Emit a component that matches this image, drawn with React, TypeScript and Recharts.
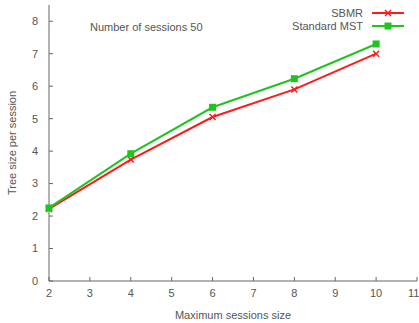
import { LineChart, Line, XAxis, YAxis } from "recharts";

const sessionSizes = [2, 4, 6, 8, 10];
const sbmr = [2.22, 3.74, 5.05, 5.9, 7.0];
const standardMst = [2.25, 3.92, 5.35, 6.23, 7.3];
const xTicks = [2, 3, 4, 5, 6, 7, 8, 9, 10, 11];
const yTicks = [0, 1, 2, 3, 4, 5, 6, 7, 8];

const data = sessionSizes.map((x, i) => ({ x, sbmr: sbmr[i], mst: standardMst[i] }));

const FONT = "'Liberation Sans', Arial, sans-serif";
const GREY = "#555";
const AXIS = "#666";
const RED = "#ff1a1a";
const GREEN = "#1fc41f";

const CrossDot = (props: any) => {
  const { cx, cy } = props;
  if (cx == null || cy == null) return null;
  const s = 3;
  return (
    <g stroke={RED} strokeWidth={1.5}>
      <line x1={cx - s} y1={cy - s} x2={cx + s} y2={cy + s} />
      <line x1={cx - s} y1={cy + s} x2={cx + s} y2={cy - s} />
    </g>
  );
};

const SquareDot = (props: any) => {
  const { cx, cy } = props;
  if (cx == null || cy == null) return null;
  return <rect x={cx - 3.5} y={cy - 3.5} width={7} height={7} fill={GREEN} />;
};

// mirrored axes only need their tick marks
const NoLabel = () => <g />;

const legendItems = [
  { name: "SBMR", color: RED, marker: "cross" },
  { name: "Standard MST", color: GREEN, marker: "square" },
];

const KeyBox = () => (
  <div style={{ position: "absolute", top: 6, left: 250, width: 154, fontFamily: FONT, fontSize: 11, color: GREY }}>
    {legendItems.map((it) => (
      <div key={it.name} style={{ display: "flex", alignItems: "center", height: 13, justifyContent: "flex-end" }}>
        <span style={{ marginRight: 9 }}>{it.name}</span>
        <svg width={32} height={10}>
          <line x1={0} y1={5} x2={32} y2={5} stroke={it.color} strokeWidth={2} />
          {it.marker === "cross" ? (
            <g stroke={it.color} strokeWidth={1.5}>
              <line x1={13} y1={2} x2={19} y2={8} />
              <line x1={13} y1={8} x2={19} y2={2} />
            </g>
          ) : (
            <rect x={12.5} y={1.5} width={7} height={7} fill={it.color} />
          )}
        </svg>
      </div>
    ))}
  </div>
);

export default function App() {
  const tickStyle = { fontFamily: FONT, fontSize: 11, fill: GREY };
  return (
    <div style={{ position: "absolute", left: 0, top: 0, width: 419, height: 323, background: "#fff" }}>
      <LineChart width={419} height={323} data={data} margin={{ top: 5, right: 2, bottom: 0, left: 0 }}>
        <XAxis
          xAxisId="b"
          dataKey="x"
          type="number"
          domain={[2, 11]}
          ticks={xTicks}
          height={42}
          stroke={AXIS}
          tickSize={-4}
          tickMargin={12}
          tick={tickStyle}
          label={{ value: "Maximum sessions size", position: "insideBottom", offset: 4, style: { fontFamily: FONT, fontSize: 11, fill: GREY } }}
        />
        <XAxis
          xAxisId="t"
          dataKey="x"
          type="number"
          orientation="top"
          domain={[2, 11]}
          ticks={xTicks}
          height={0}
          stroke={AXIS}
          tickSize={-4}
          tick={<NoLabel />}
        />
        <YAxis
          yAxisId="l"
          type="number"
          domain={[0, 8.5]}
          ticks={yTicks}
          width={49}
          stroke={AXIS}
          tickSize={-4}
          tickMargin={15}
          tick={tickStyle}
          label={{ value: "Tree size per session", angle: -90, position: "insideLeft", offset: 12, style: { fontFamily: FONT, fontSize: 11, fill: GREY, textAnchor: "middle" } }}
        />
        <YAxis
          yAxisId="r"
          orientation="right"
          type="number"
          domain={[0, 8.5]}
          ticks={yTicks}
          width={0}
          stroke={AXIS}
          tickSize={-4}
          tick={<NoLabel />}
        />
        <Line
          xAxisId="b"
          yAxisId="l"
          dataKey="sbmr"
          name="SBMR"
          stroke={RED}
          strokeWidth={2}
          dot={<CrossDot />}
          isAnimationActive={false}
        />
        <Line
          xAxisId="b"
          yAxisId="l"
          dataKey="mst"
          name="Standard MST"
          stroke={GREEN}
          strokeWidth={2}
          dot={<SquareDot />}
          isAnimationActive={false}
        />
      </LineChart>
      <KeyBox />
      <div style={{ position: "absolute", left: 90, top: 21, fontFamily: FONT, fontSize: 11, color: GREY }}>
        Number of sessions 50
      </div>
    </div>
  );
}
